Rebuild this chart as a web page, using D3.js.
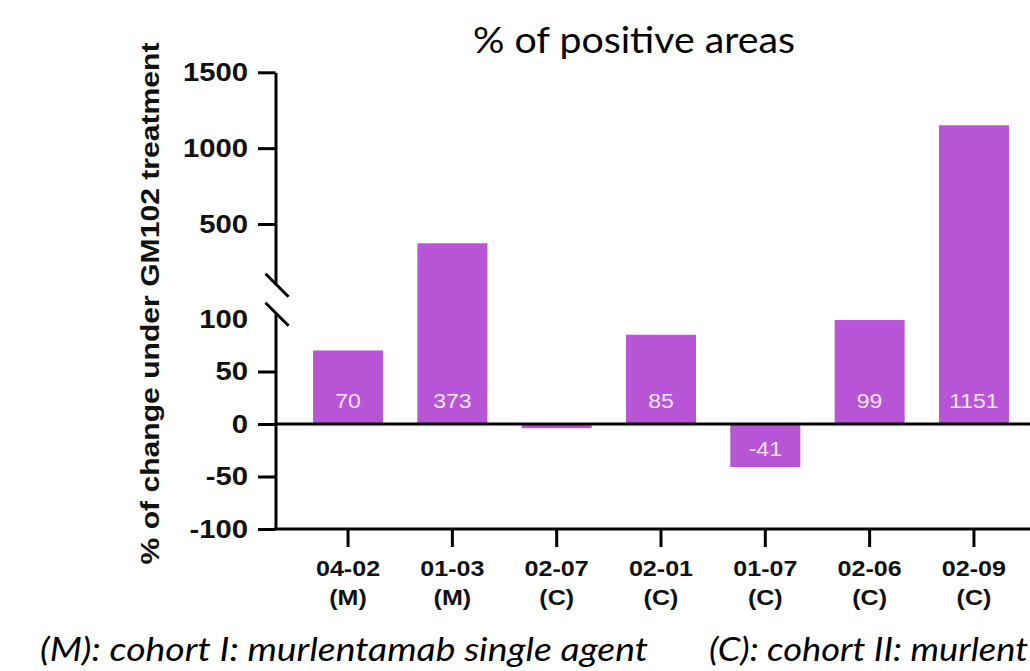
<!DOCTYPE html>
<html>
<head>
<meta charset="utf-8">
<script src="https://cdn.jsdelivr.net/npm/d3@7"></script>
<style>
  html, body { margin: 0; padding: 0; background: #fff; }
  svg { display: block; }
</style>
</head>
<body>
<svg id="chart" width="1030" height="671"></svg>
<script>
// Patient IDs, cohort tags and % change of positive areas
const patients = ["04-02", "01-03", "02-07", "02-01", "01-07", "02-06", "02-09"];
const cohorts  = ["(M)", "(M)", "(C)", "(C)", "(C)", "(C)", "(C)"];
const changes  = [70, 373, -4, 85, -41, 99, 1151];

// Broken y axis: lower and upper segments
const lowerTicks = [-100, -50, 0, 50, 100];
const upperTicks = [500, 1000, 1500];
const lowerDomain = [-100, 105];
const upperDomain = [100, 1500];

const titleText = "% of positive areas";
const yTitleText = "% of change under GM102 treatment";
const footM = "(M): cohort I: murlentamab single agent";
const footC = "(C): cohort II: murlent";

const svg = d3.select("#chart");
const axisX = 275.5;
const BAR = "#b855d6";
const AXIS_FONT = "'Liberation Sans', Arial, sans-serif";
const plain = d => String(d);

const yLow = d3.scaleLinear().domain(lowerDomain).range([529, 313.75]);
const yHigh = d3.scaleLinear().domain(upperDomain).range([284.7, 72.3]);
const yVal = v => (v <= lowerDomain[1] ? yLow(v) : yHigh(v));

const x = d3.scaleBand()
  .domain(patients)
  .range([axisX, 1046.5])
  .paddingInner(0.329)
  .paddingOuter(0.36);

// Stretch a text horizontally by factor k
function widen(sel, k) {
  sel.each(function () {
    const w = this.getComputedTextLength();
    d3.select(this).attr("textLength", w * k).attr("lengthAdjust", "spacingAndGlyphs");
  });
}

// Bars
const data = patients.map((p, i) => ({ p, c: cohorts[i], v: changes[i] }));
const y0 = yLow(0);
svg.append("g").selectAll("rect")
  .data(data)
  .join("rect")
  .attr("x", d => x(d.p))
  .attr("width", x.bandwidth())
  .attr("y", d => Math.min(yVal(d.v), y0))
  .attr("height", d => Math.abs(yVal(d.v) - y0))
  .attr("fill", BAR);

// Value labels inside bars
svg.append("g").selectAll("text")
  .data(data.filter(d => Math.abs(d.v) >= 20))
  .join("text")
  .attr("x", d => x(d.p) + x.bandwidth() / 2)
  .attr("y", d => d.v >= 0 ? y0 - 16 : y0 + 32)
  .attr("text-anchor", "middle")
  .attr("font-family", AXIS_FONT)
  .attr("font-size", 20)
  .attr("fill", "#f6e6f9")
  .text(d => plain(d.v))
  .call(widen, 1.15);

// Lower y axis segment
const gLow = svg.append("g")
  .attr("transform", `translate(${axisX},0)`)
  .call(d3.axisLeft(yLow).tickValues(lowerTicks).tickFormat(plain)
    .tickSize(17.5).tickSizeOuter(0).tickPadding(10));
gLow.selectAll(".tick").filter(d => d === 100).select("line").remove();

// Upper y axis segment
const gHigh = svg.append("g")
  .attr("transform", `translate(${axisX},0)`)
  .call(d3.axisLeft(yHigh).tickValues(upperTicks).tickFormat(plain)
    .tickSize(17.5).tickSizeOuter(0).tickPadding(10));

[gLow, gHigh].forEach(g => {
  g.select(".domain").attr("stroke", "#000").attr("stroke-width", 3);
  g.selectAll(".tick line").attr("stroke", "#000").attr("stroke-width", 3);
  g.selectAll(".tick text")
    .attr("font-family", AXIS_FONT)
    .attr("font-weight", "bold")
    .attr("font-size", 25)
    .attr("fill", "#111")
    .call(widen, 1.17);
});

// Axis break marks
const breaks = [yHigh(upperDomain[0]), yLow(lowerDomain[1])];
svg.append("g").selectAll("line")
  .data(breaks)
  .join("line")
  .attr("x1", axisX - 10).attr("y1", d => d - 11)
  .attr("x2", axisX + 13).attr("y2", d => d + 12)
  .attr("stroke", "#000")
  .attr("stroke-width", 3);

// X axis at the bottom of the lower segment
const gX = svg.append("g")
  .attr("transform", `translate(0,${yLow(lowerDomain[0])})`)
  .call(d3.axisBottom(x).tickSize(18).tickSizeOuter(0));
gX.select(".domain").attr("stroke", "#000").attr("stroke-width", 3)
  .attr("d", `M${axisX - 1.5},0H1046.5`);
gX.selectAll(".tick line").attr("stroke", "#000").attr("stroke-width", 3);
gX.selectAll(".tick text").remove();
gX.selectAll(".tick").each(function (p, i) {
  const g = d3.select(this);
  [[p, 47], [cohorts[i], 76]].forEach(([t, dy]) => {
    g.append("text")
      .attr("y", dy)
      .attr("text-anchor", "middle")
      .attr("font-family", AXIS_FONT)
      .attr("font-weight", "bold")
      .attr("font-size", 22)
      .attr("fill", "#111")
      .text(t)
      .call(widen, 1.14);
  });
});

// Zero line
svg.append("line")
  .attr("x1", axisX).attr("x2", 1046.5)
  .attr("y1", y0).attr("y2", y0)
  .attr("stroke", "#000")
  .attr("stroke-width", 3);

// Y axis title
svg.append("text")
  .attr("transform", `translate(159,${303.5}) rotate(-90)`)
  .attr("text-anchor", "middle")
  .attr("font-family", AXIS_FONT)
  .attr("font-weight", "bold")
  .attr("font-size", 25)
  .attr("fill", "#111")
  .attr("textLength", 522)
  .attr("lengthAdjust", "spacingAndGlyphs")
  .text(yTitleText);

// Chart title
svg.append("text")
  .attr("x", 634)
  .attr("y", 53)
  .attr("text-anchor", "middle")
  .attr("font-family", "Lato, 'Open Sans', sans-serif")
  .attr("font-size", 36)
  .attr("fill", "#000")
  .attr("textLength", 322)
  .attr("lengthAdjust", "spacingAndGlyphs")
  .text(titleText);

// Cohort legend lines
const footFont = "Lato, 'Open Sans', sans-serif";
svg.append("text")
  .attr("x", 40).attr("y", 661)
  .attr("font-family", footFont)
  .attr("font-style", "italic")
  .attr("font-size", 32)
  .attr("fill", "#000")
  .attr("textLength", 608)
  .attr("lengthAdjust", "spacingAndGlyphs")
  .text(footM);
svg.append("text")
  .attr("x", 709).attr("y", 661)
  .attr("font-family", footFont)
  .attr("font-style", "italic")
  .attr("font-size", 32)
  .attr("fill", "#000")
  .attr("textLength", 319)
  .attr("lengthAdjust", "spacingAndGlyphs")
  .text(footC);
</script>
</body>
</html>
